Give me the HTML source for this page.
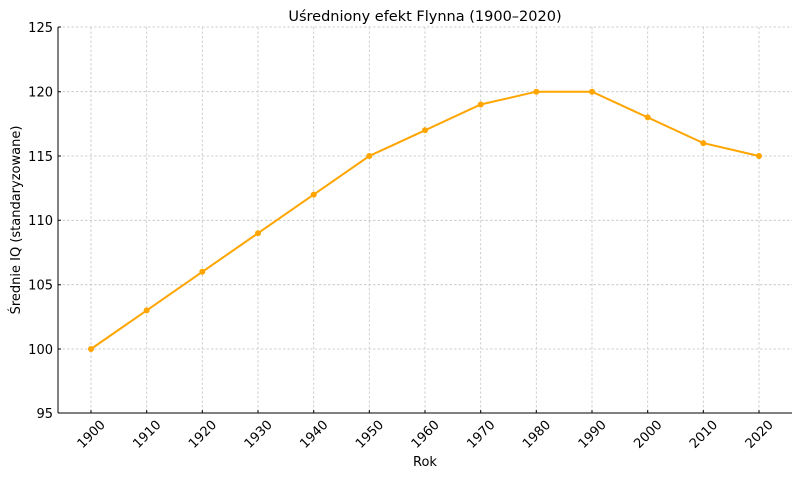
<!DOCTYPE html>
<html><head><meta charset="utf-8"><style>body{margin:0;background:#fff}svg{display:block}text{font-family:"DejaVu Sans","Liberation Sans",sans-serif;fill:#000}</style></head><body>
<svg width="800" height="477" viewBox="0 0 800 477">
<g stroke="#c4c4c4" stroke-width="0.8" stroke-dasharray="2.5,2">
<line x1="58" x2="792" y1="27" y2="27"/><line x1="58" x2="792" y1="91.7" y2="91.7"/><line x1="58" x2="792" y1="156" y2="156"/><line x1="58" x2="792" y1="220.3" y2="220.3"/><line x1="58" x2="792" y1="284.7" y2="284.7"/><line x1="58" x2="792" y1="349" y2="349"/>
<line y1="27" y2="413" x1="91" x2="91"/><line y1="27" y2="413" x1="146.7" x2="146.7"/><line y1="27" y2="413" x1="202.3" x2="202.3"/><line y1="27" y2="413" x1="258" x2="258"/><line y1="27" y2="413" x1="313.7" x2="313.7"/><line y1="27" y2="413" x1="369.3" x2="369.3"/><line y1="27" y2="413" x1="425" x2="425"/><line y1="27" y2="413" x1="480.7" x2="480.7"/><line y1="27" y2="413" x1="536.3" x2="536.3"/><line y1="27" y2="413" x1="592" x2="592"/><line y1="27" y2="413" x1="647.7" x2="647.7"/><line y1="27" y2="413" x1="703.3" x2="703.3"/><line y1="27" y2="413" x1="759" x2="759"/>
</g>
<g stroke="#000" stroke-width="1"><line x1="58" x2="58" y1="27" y2="413"/><line x1="58" x2="792" y1="413" y2="413"/>
<path d="M58 27h3M58 91.7h3M58 156h3M58 220.3h3M58 284.7h3M58 349h3M91 413v-3M146.7 413v-3M202.3 413v-3M258 413v-3M313.7 413v-3M369.3 413v-3M425 413v-3M480.7 413v-3M536.3 413v-3M592 413v-3M647.7 413v-3M703.3 413v-3M759 413v-3"/></g>
<g font-size="13" text-anchor="end"><text x="53" y="32">125</text><text x="53" y="96.5">120</text><text x="53" y="161">115</text><text x="53" y="225">110</text><text x="53" y="289.5">105</text><text x="53" y="354">100</text><text x="53" y="418">95</text></g>
<g font-size="13" text-anchor="middle">
<text transform="translate(91,434) rotate(-45)" dy="4.5">1900</text><text transform="translate(146.7,434) rotate(-45)" dy="4.5">1910</text><text transform="translate(202.3,434) rotate(-45)" dy="4.5">1920</text><text transform="translate(258,434) rotate(-45)" dy="4.5">1930</text><text transform="translate(313.7,434) rotate(-45)" dy="4.5">1940</text><text transform="translate(369.3,434) rotate(-45)" dy="4.5">1950</text><text transform="translate(425,434) rotate(-45)" dy="4.5">1960</text><text transform="translate(480.7,434) rotate(-45)" dy="4.5">1970</text><text transform="translate(536.3,434) rotate(-45)" dy="4.5">1980</text><text transform="translate(592,434) rotate(-45)" dy="4.5">1990</text><text transform="translate(647.7,434) rotate(-45)" dy="4.5">2000</text><text transform="translate(703.3,434) rotate(-45)" dy="4.5">2010</text><text transform="translate(759,434) rotate(-45)" dy="4.5">2020</text>
</g>
<text x="425" y="466" font-size="13" text-anchor="middle">Rok</text>
<text transform="translate(20,220) rotate(-90)" font-size="13" text-anchor="middle">Średnie IQ (standaryzowane)</text>
<text x="425" y="21" font-size="14.5" text-anchor="middle">Uśredniony efekt Flynna (1900–2020)</text>
<polyline fill="none" stroke="#ffa500" stroke-width="2" points="91,349 146.7,310.4 202.3,271.8 258,233.2 313.7,194.6 369.3,156 425,130.3 480.7,104.5 536.3,91.7 592,91.7 647.7,117.4 703.3,143.1 759,156"/>
<g fill="#ffa500"><circle cx="91" cy="349" r="3"/><circle cx="146.7" cy="310.4" r="3"/><circle cx="202.3" cy="271.8" r="3"/><circle cx="258" cy="233.2" r="3"/><circle cx="313.7" cy="194.6" r="3"/><circle cx="369.3" cy="156" r="3"/><circle cx="425" cy="130.3" r="3"/><circle cx="480.7" cy="104.5" r="3"/><circle cx="536.3" cy="91.7" r="3"/><circle cx="592" cy="91.7" r="3"/><circle cx="647.7" cy="117.4" r="3"/><circle cx="703.3" cy="143.1" r="3"/><circle cx="759" cy="156" r="3"/></g>
</svg></body></html>
